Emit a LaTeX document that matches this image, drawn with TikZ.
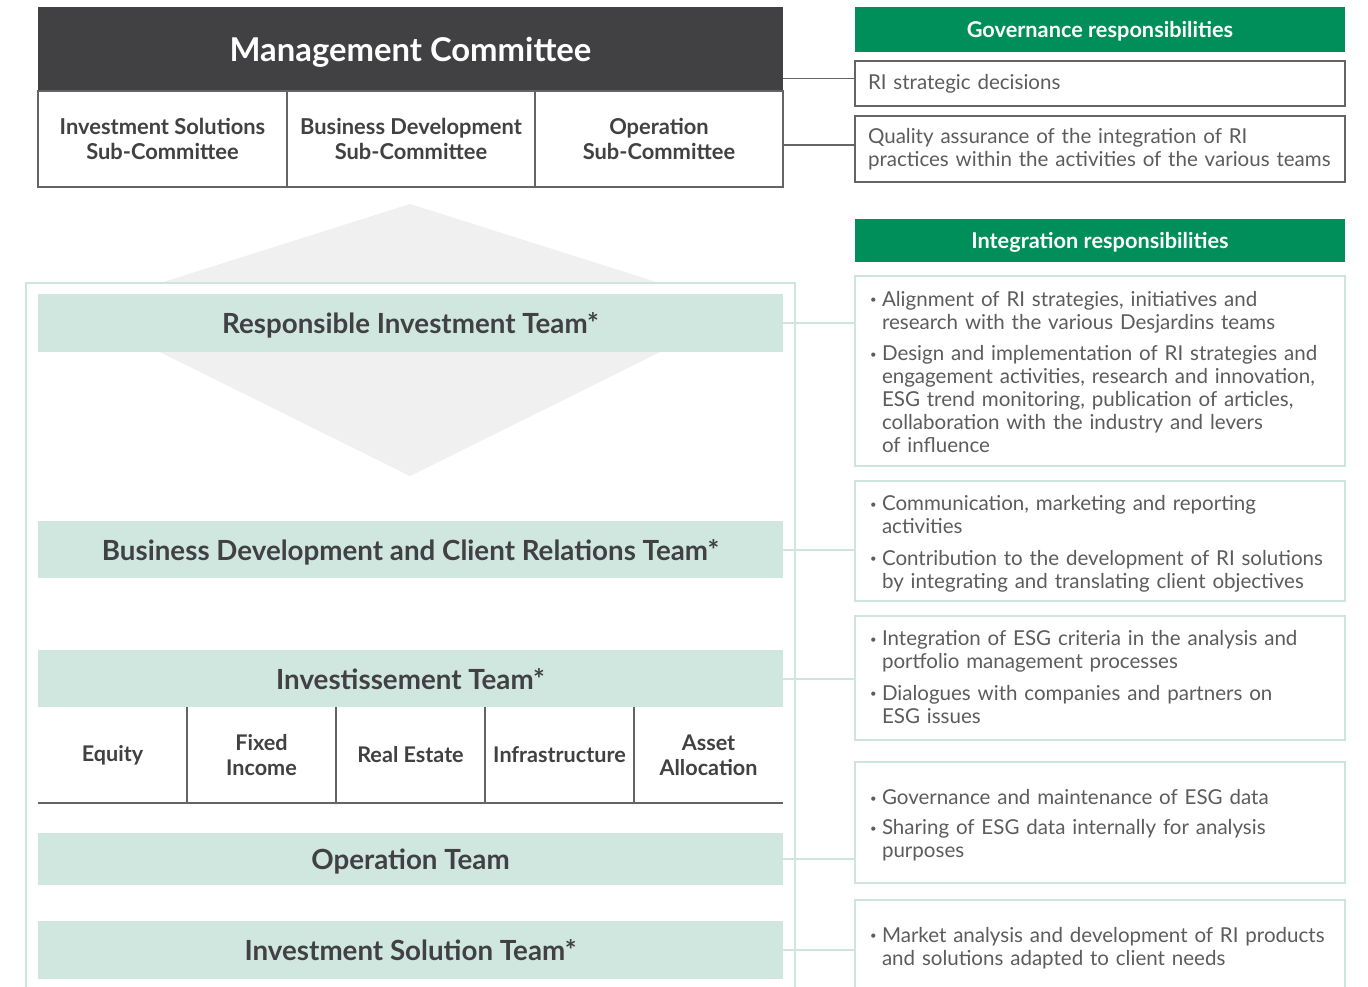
\documentclass[tikz,border=0pt]{standalone}
\usepackage{fontspec}
\setmainfont{Lato}
\usetikzlibrary{calc}
\definecolor{dark}{RGB}{65,64,66}
\definecolor{dgreen}{RGB}{0,143,90}
\definecolor{lgreen}{RGB}{208,231,223}
\definecolor{lborder}{RGB}{205,229,221}
\definecolor{gline}{RGB}{100,100,102}
\definecolor{txt}{RGB}{92,92,94}
\definecolor{diam}{RGB}{240,240,240}
\newcommand\bitem[2][0pt]{\noindent\makebox[9pt][l]{\raisebox{0.25ex}{\scalebox{0.55}{\textbullet}}}\parbox[t]{340pt}{\raggedright\rule{0pt}{\dimexpr0.7\baselineskip+#1\relax}#2\strut}\par}
\newcommand\gtext[1]{\noindent\parbox{360pt}{\raggedright #1}}
\tikzset{
 base/.style={inner sep=0pt, outer sep=0pt, anchor=north west},
 darkbox/.style={base, fill=dark, text=white, text depth=0pt, font=\bfseries\fontsize{24.6}{28}\selectfont},
 subcell/.style={base, draw=gline, line width=1.1pt, text=dark, align=center, font=\bfseries\fontsize{16.4}{18.75}\selectfont},
 ghead/.style={base, fill=dgreen, text=white, text depth=0pt, font=\bfseries\fontsize{16.3}{18}\selectfont},
 gbox/.style={base, draw=gline, line width=1.1pt, text=txt, align=left, inner xsep=9.75pt, text width=348pt, font=\fontsize{15.4}{17.25}\selectfont},
 ibox/.style={base, draw=lborder, line width=1.5pt, text=txt, align=left, inner xsep=11.25pt, text width=345pt, font=\fontsize{15.4}{17.25}\selectfont},
 bar/.style={base, fill=lgreen, text=dark, text depth=0pt, minimum width=745*0.75pt, font=\bfseries\fontsize{20.8}{24}\selectfont},
 cell/.style={base, text=dark, align=center, minimum width=149*0.75pt, minimum height=96*0.75pt, font=\bfseries\fontsize{16.2}{18.75}\selectfont},
 gcon/.style={draw=gline, line width=1.1pt},
 lcon/.style={draw=lborder, line width=1.5pt},
 divline/.style={draw=gline, line width=1.1pt},
}
\begin{document}
\begin{tikzpicture}[x=0.75pt,y=-0.75pt]
\useasboundingbox (0,0) rectangle (1368,986);
\clip (0,0) rectangle (1368,986);
\fill[white] (0,0) rectangle (1368,986);
% diamond background
\fill[diam] (410,204) -- (75,310) -- (410,476) -- (745,310) -- cycle;
% frame
\draw[lborder, line width=1.5pt] (26,283) rectangle (795,1010);
\fill[white] (27,284) rectangle (794,294);

% management committee
\node[darkbox, minimum width=745*0.75pt, minimum height=84*0.75pt] (mc) at (38,7) {Management Committee};
\node[subcell, minimum width=249*0.75pt, minimum height=96*0.75pt] (isc) at (38,91) {Investment Solutions\\Sub-Committee};
\node[subcell, minimum width=248*0.75pt, minimum height=96*0.75pt] (bdc) at (287,91) {Business Development\\Sub-Committee};
\node[subcell, minimum width=248*0.75pt, minimum height=96*0.75pt] (opc) at (535,91) {Operation\\Sub-Committee};

% governance
\node[ghead, minimum width=490*0.75pt, minimum height=45*0.75pt] (gh) at (855,7) {Governance responsibilities};
\node[gbox, minimum height=45*0.75pt] (ri) at (855,61) {\gtext{RI strategic decisions}};
\node[gbox, minimum height=66*0.75pt] (qa) at (855,116) {\gtext{Quality assurance of the integration of RI\\practices within the activities of the various teams}};

% integration
\node[ghead, minimum width=490*0.75pt, minimum height=43*0.75pt] (ih) at (855,219) {Integration responsibilities};
\node[ibox, minimum height=190*0.75pt] (b1) at (855,276) {%
\bitem[6pt]{Alignment of RI strategies, initiatives and\\research with the various Desjardins teams}\vspace{5.25pt}
\bitem{Design and implementation of RI strategies and\\engagement activities, research and innovation,\\ESG trend monitoring, publication of articles,\\collaboration with the industry and levers\\of influence}};
\node[ibox, minimum height=120*0.75pt] (b2) at (855,481) {%
\bitem[6pt]{Communication, marketing and reporting\\activities}\vspace{5.25pt}
\bitem{Contribution to the development of RI solutions\\by integrating and translating client objectives}};
\node[ibox, minimum height=124*0.75pt] (b3) at (855,616) {%
\bitem[3pt]{Integration of ESG criteria in the analysis and\\portfolio management processes}\vspace{5.25pt}
\bitem{Dialogues with companies and partners on\\ESG issues}};
\node[ibox, minimum height=121*0.75pt] (b4) at (855,762) {%
\bitem[6pt]{Governance and maintenance of ESG data}\vspace{5.25pt}
\bitem{Sharing of ESG data internally for analysis\\purposes}};
\node[ibox, minimum height=92*0.75pt] (b5) at (855,900) {%
\bitem[5pt]{Market analysis and development of RI products\\and solutions adapted to client needs}};

% teams
\node[bar, minimum height=58*0.75pt] (rit) at (38,294) {Responsible Investment Team*};
\node[bar, minimum height=57*0.75pt] (bdt) at (38,521) {Business Development and Client Relations Team*};
\node[bar, minimum height=57*0.75pt] (invt) at (38,650) {Investissement Team*};
\node[cell] (eq) at (38,707) {Equity};
\node[cell] (fi) at (187,707) {Fixed\\Income};
\node[cell] (re) at (336,707) {Real Estate};
\node[cell] (inf) at (485,707) {Infrastructure};
\node[cell] (aa) at (634,707) {Asset\\Allocation};
\draw[divline] (eq.north east) -- (eq.south east);
\draw[divline] (fi.north east) -- (fi.south east);
\draw[divline] (re.north east) -- (re.south east);
\draw[divline] (inf.north east) -- (inf.south east);
\draw[divline] (eq.south west) -- (aa.south east);
\node[bar, minimum height=52*0.75pt] (opt) at (38,833) {Operation Team};
\node[bar, minimum height=58*0.75pt] (ist) at (38,921) {Investment Solution Team*};

% connectors
\draw[gcon] ($(ri.west)+(0,-5)$) -- ($(ri.west -| mc.east)+(0,-5)$);
\draw[gcon] ($(qa.west)+(0,-4)$) -- ($(qa.west -| opc.east)+(0,-4)$);
\draw[lcon] (rit.east) -- (rit.east -| b1.west);
\draw[lcon] (bdt.east) -- (bdt.east -| b2.west);
\draw[lcon] (invt.east) -- (invt.east -| b3.west);
\draw[lcon] (opt.east) -- (opt.east -| b4.west);
\draw[lcon] (ist.east) -- (ist.east -| b5.west);
\end{tikzpicture}
\end{document}
